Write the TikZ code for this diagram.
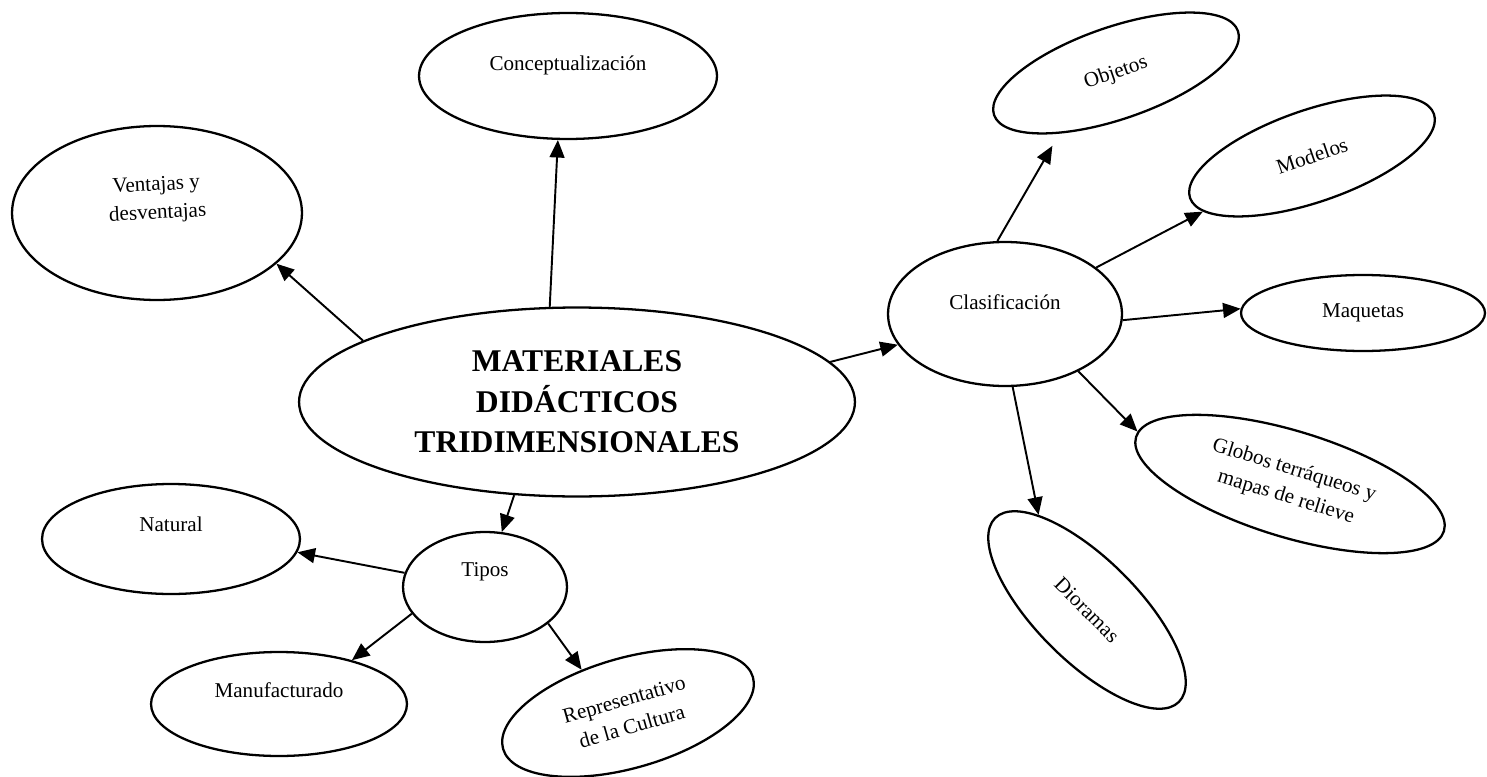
\documentclass[tikz,border=0pt]{standalone}
\usepackage{fontspec}
\setmainfont{Liberation Serif}
\usetikzlibrary{shapes.geometric,arrows.meta}
\tikzset{>={Triangle[length=10pt,width=8.5pt]}}
\tikzset{
  oval/.style={draw,ellipse,line width=1.3pt,inner sep=0pt,font=\fontsize{12}{16}\selectfont,align=center},
  inlab/.style={font=\fontsize{12}{16}\selectfont,align=center},
  link/.style={->,line width=1.1pt}
}

\begin{document}
\begin{tikzpicture}[x=0.02cm,y=-0.02cm]
  \useasboundingbox (0,0) rectangle (1487,777);
  \node[oval,minimum width=11.12cm,minimum height=3.78cm,font=\fontsize{18}{23}\selectfont\bfseries] (mat) at (577,402) {MATERIALES\\DIDÁCTICOS\\TRIDIMENSIONALES};
  \node[oval,minimum width=5.96cm,minimum height=2.52cm,label={[inlab,yshift=0.22cm]center:Conceptualización}] (conc) at (568,76) {};
  \node[oval,minimum width=5.8cm,minimum height=3.48cm,label={[inlab,yshift=0.26cm,rotate=3]center:Ventajas y\\desventajas}] (vent) at (157,213) {};
  \node[oval,minimum width=4.68cm,minimum height=2.88cm,label={[inlab,yshift=0.24cm]center:Clasificación}] (clas) at (1005,314) {};
  \node[oval,minimum width=5.16cm,minimum height=1.84cm,rotate=19] (obj) at (1116,73) {Objetos};
  \node[oval,minimum width=5.16cm,minimum height=1.84cm,rotate=19] (mod) at (1312,156) {Modelos};
  \node[oval,minimum width=4.88cm,minimum height=1.52cm] (maq) at (1363,313) {Maquetas};
  \node[oval,minimum width=6.44cm,minimum height=2.12cm,rotate=-17] (glob) at (1290,484) {Globos terráqueos y\\mapas de relieve};
  \node[oval,minimum width=5.2cm,minimum height=2.04cm,rotate=-45] (dio) at (1087,610) {Dioramas};
  \node[oval,minimum width=3.28cm,minimum height=2.2cm,label={[inlab,yshift=0.3cm]center:Tipos}] (tip) at (485,587) {};
  \node[oval,minimum width=5.16cm,minimum height=2.2cm,label={[inlab,yshift=0.3cm]center:Natural}] (nat) at (171,539) {};
  \node[oval,minimum width=5.12cm,minimum height=2.08cm,label={[inlab,yshift=0.28cm]center:Manufacturado}] (manu) at (279,704) {};
  \node[oval,minimum width=5.2cm,minimum height=2.2cm,rotate=16] (rep) at (628,713) {Representativo\\de la Cultura};

  \draw[link] (mat.164) -- (vent.337);
  \draw[link] (mat.106) -- (conc.261);
  \draw[link] (mat.9) -- (clas.196);
  \draw[link] (mat.236) -- (tip.73);
  \draw[link] (tip.170) -- (nat.354);
  \draw[link] (tip.200) -- (manu.31);
  \draw[link] (tip.330) -- (rep.121);
  \draw[link,shorten >=8pt] (clas.96) -- (obj.208);
  \draw[link] (clas.27) -- (mod.188);
  \draw[link] (clas.357) -- (maq.178);
  \draw[link] (clas.322) -- (glob.178);
  \draw[link] (clas.276) -- (dio.162);
\end{tikzpicture}
\end{document}
